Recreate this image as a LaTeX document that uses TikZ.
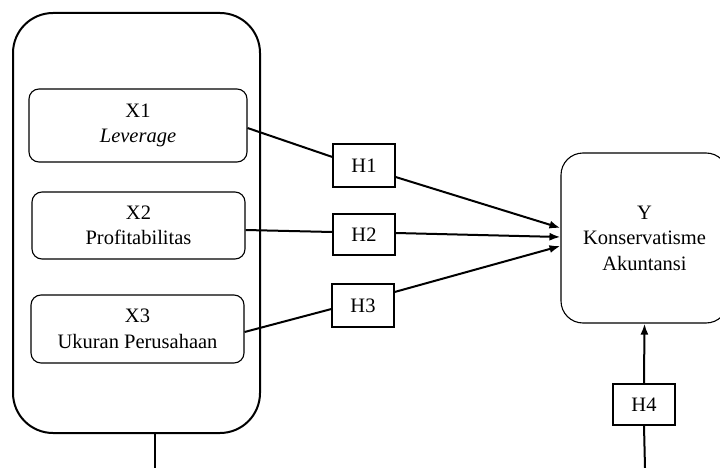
\documentclass[tikz,border=0pt]{standalone}
\usepackage{fontspec}
\setmainfont{Liberation Serif}
\usetikzlibrary{arrows.meta}
\begin{document}
\begin{tikzpicture}[x=1pt,y=-1pt,
  every node/.style={font=\fontsize{20.5}{25.5}\selectfont},
  bigbox/.style={draw, line width=2pt, rounded corners=40pt, minimum width=247pt, minimum height=420pt, inner sep=0pt},
  varbox/.style={draw, line width=1.1pt, rounded corners=10pt, align=center, inner sep=0pt},
  ybox/.style={draw, line width=1.1pt, rounded corners=22pt, align=center, inner sep=0pt, minimum width=167pt, minimum height=170pt},
  hbox/.style={draw, line width=1.2pt, inner sep=0pt, minimum width=62pt},
  conn/.style={line width=2pt},
  arr/.style={line width=2pt, -{Latex[length=11pt,width=8pt]}}]
\useasboundingbox (0,0) rectangle (720,468);
\clip (0,0) rectangle (720,468);
\node[bigbox] (big) at (136.5,223) {};
\node[varbox, minimum width=218pt, minimum height=73pt] (X1) at (138,125.5) {X1\\\textit{Leverage}};
\node[varbox, minimum width=213pt, minimum height=67pt] (X2) at (138.5,225.5) {X2\\Profitabilitas};
\node[varbox, minimum width=213pt, minimum height=68pt] (X3) at (137.5,329) {X3\\Ukuran Perusahaan};
\node[hbox, minimum height=43pt] (H1) at (364,165.5) {H1};
\node[hbox, minimum height=41pt] (H2) at (364,234.5) {H2};
\node[hbox, minimum height=43pt] (H3) at (363,305.5) {H3};
\node[hbox, minimum height=41pt] (H4) at (644,404.5) {H4};
\node[ybox] (Y) at (644.5,238) {Y\\Konservatisme\\Akuntansi};
\coordinate (bigdown) at (155,468);
\coordinate (h4down) at (645,468);
\draw[conn] ([yshift=-2.5pt]X1.east) -- ([yshift=8.5pt]H1.west);
\draw[arr] ([yshift=-11.5pt]H1.east) -- ([yshift=10pt]Y.west);
\draw[conn] ([yshift=-4.5pt]X2.east) -- ([yshift=2.5pt]H2.west);
\draw[arr] ([yshift=1.5pt]H2.east) -- ([yshift=1pt]Y.west);
\draw[conn] ([yshift=-3pt]X3.east) -- ([yshift=-3.5pt]H3.west);
\draw[arr] ([yshift=13.5pt]H3.east) -- ([yshift=-8pt]Y.west);
\draw[arr] (H4.north) -- (Y.south);
\draw[conn] (h4down) -- (H4.south);
\draw[conn] ([xshift=18.5pt]big.south) -- (bigdown);
\end{tikzpicture}
\end{document}
